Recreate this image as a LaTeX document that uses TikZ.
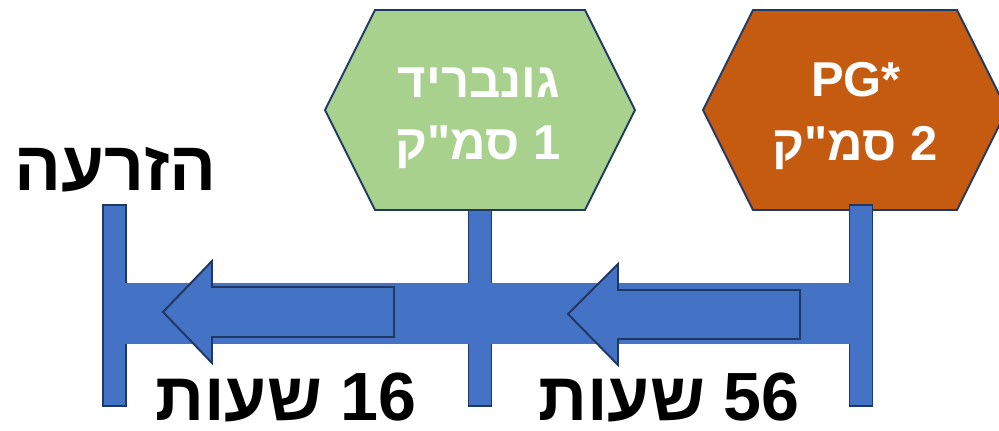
\documentclass[tikz,border=0pt]{standalone}
\usepackage{fontspec}
\setmainfont{Liberation Sans}
\newfontfamily\hebfont[Script=Hebrew]{Liberation Sans}
\TeXXeTstate=1
\definecolor{barblue}{HTML}{4472C4}
\definecolor{edgeblue}{HTML}{1F3864}
\definecolor{hexgreen}{HTML}{A9D18E}
\definecolor{hexorange}{HTML}{C55A11}
\tikzset{
  tickbar/.style={fill=barblue,draw=edgeblue,line width=1.4pt},
  hexbox/.style={draw=edgeblue,line width=1.4pt},
  hextext/.style={anchor=base,text=white,font=\hebfont\bfseries\fontsize{34.8}{40}\selectfont},
  hourtext/.style={anchor=base,font=\hebfont\bfseries\fontsize{48.5}{54}\selectfont},
}

\begin{document}
\begin{tikzpicture}[x=0.025cm,y=-0.025cm]
      \clip (0,0) rectangle (999,431);
      % ticks under the time bar
      \foreach \tx/\ty in {114.5/205,480/210,861/205}
        \draw[tickbar] (\tx-11.5,\ty) rectangle (\tx+11.5,406);
      \fill[barblue] (104,283) rectangle (850,344);
      % arrows
      \draw[tickbar] (394,287)--(212,287)--(212,261)--(163,312)--(212,363)--(212,337)--(394,337)--cycle;
      \draw[tickbar] (800,290)--(618,290)--(618,264)--(568,314)--(618,365)--(618,339)--(800,339)--cycle;
      % hexagons
      \draw[hexbox,fill=hexgreen] (325,110)--(375,10)--(585,10)--(635,110)--(585,210)--(375,210)--cycle;
      \draw[hexbox,fill=hexorange] (703,110)--(753,10)--(957,10)--(1007,110)--(957,210)--(753,210)--cycle;
      \draw[tickbar] (849.5,232)--(849.5,205)--(872.5,205)--(872.5,232);
      \node[hextext] (gonname) at (479,98) {\beginR גונבריד\endR};
      \node[hextext] (gondose) at (478,160) {\beginR 1 סמ"ק\endR};
      \node[hextext] (pgname) at (856,97) {PG*};
      \node[hextext] (pgdose) at (855,161) {\beginR 2 סמ"ק\endR};
      \node[hourtext,font=\hebfont\bfseries\fontsize{49.5}{56}\selectfont] (seeding) at (115.5,191) {\beginR הזרעה\endR};
      \node[hourtext] (hoursa) at (286,420) {\beginR 16 שעות\endR};
      \node[hourtext] (hoursb) at (669,420) {\beginR 56 שעות\endR};
\end{tikzpicture}
\end{document}
